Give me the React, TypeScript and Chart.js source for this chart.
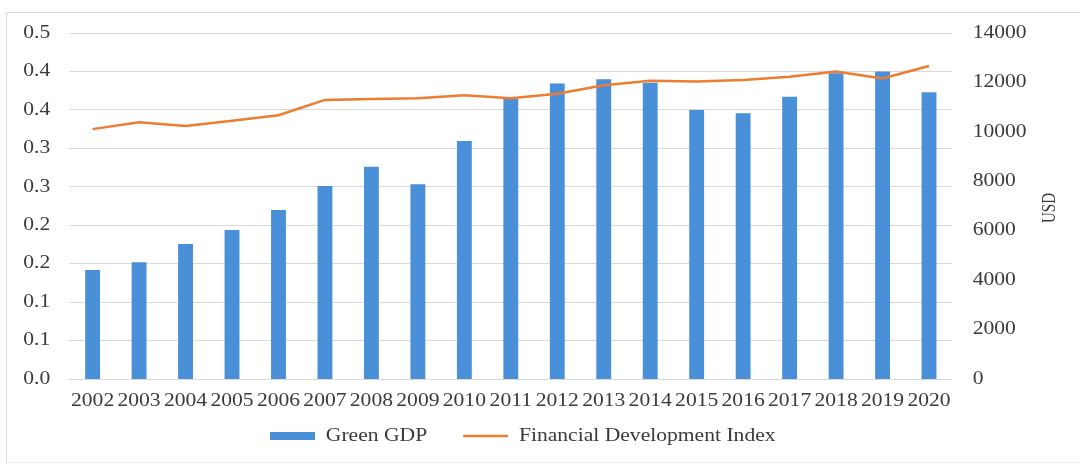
import React, { useEffect, useRef } from "react";
import { Chart, registerables } from "chart.js";

Chart.register(...registerables);

const years = ["2002","2003","2004","2005","2006","2007","2008","2009","2010","2011","2012","2013","2014","2015","2016","2017","2018","2019","2020"];
const greenGDP = [4410, 4720, 5460, 6030, 6840, 7810, 8590, 7880, 9630, 11330, 11960, 12130, 11990, 10880, 10750, 11420, 12370, 12440, 11600];
const fdi = [0.325, 0.334, 0.329, 0.336, 0.343, 0.363, 0.364, 0.365, 0.369, 0.365, 0.371, 0.382, 0.388, 0.387, 0.389, 0.393, 0.400, 0.391, 0.407];
const seriesNames = ["Green GDP", "Financial Development Index"];
const rightAxisTitle = "USD";

const BLUE = "#4a90d9";
const ORANGE = "#ed7d31";
const TEXT = "#3a3a3a";
const GRID = "#d9d9d9";
const FAMILY = "'Liberation Serif', 'Times New Roman', serif";

// logical chart size vs displayed size (reference is horizontally stretched)
const LW = 892;
const DW = 1070;
const H = 440;
const SX = DW / LW;

const stretchPlugin = {
  id: "stretch",
  beforeDraw(chart: any) {
    chart.ctx.setTransform(SX, 0, 0, 1, 0, 0);
  },
};

const usdTitlePlugin = {
  id: "usdTitle",
  afterDraw(chart: any) {
    const ctx = chart.ctx;
    const ca = chart.chartArea;
    ctx.save();
    ctx.translate(869.5, (ca.top + ca.bottom) / 2 + 2);
    ctx.rotate(-Math.PI / 2);
    ctx.font = `15px ${FAMILY}`;
    ctx.fillStyle = TEXT;
    ctx.textAlign = "center";
    ctx.textBaseline = "middle";
    ctx.fillText(rightAxisTitle, 0, 0);
    ctx.restore();
  },
};

export default function App() {
  const ref = useRef<HTMLCanvasElement | null>(null);

  useEffect(() => {
    const canvas = ref.current!;
    canvas.width = LW;
    canvas.height = H;
    const font = { family: FAMILY, size: 18 };
    const chart = new Chart(canvas, {
      type: "bar",
      data: {
        labels: years,
        datasets: [
          {
            type: "bar",
            label: seriesNames[0],
            data: greenGDP,
            yAxisID: "y1",
            backgroundColor: BLUE,
            barPercentage: 0.32,
            categoryPercentage: 1,
            order: 1,
          } as any,
          {
            type: "line",
            label: seriesNames[1],
            data: fdi,
            yAxisID: "y",
            borderColor: ORANGE,
            backgroundColor: ORANGE,
            borderWidth: 2.5,
            pointRadius: 0,
            tension: 0,
            order: 0,
          } as any,
        ],
      },
      options: {
        responsive: false,
        animation: false,
        events: [],
        layout: { padding: { top: 20, right: 32, left: 0, bottom: -2 } },
        scales: {
          x: {
            grid: { display: false, drawTicks: false },
            border: { display: false },
            ticks: { font, color: TEXT, padding: 11, maxRotation: 0, autoSkip: false },
            afterFit: (s: any) => {
              s.height = 18;
              s._computeLabelArea = () => undefined;
            },
          },
          y: {
            position: "left",
            min: 0,
            max: 0.45,
            ticks: {
              stepSize: 0.05,
              padding: 16,
              font,
              color: TEXT,
              callback: (v: any) => (Math.round(Number(v) * 10 + 1e-6) / 10).toFixed(1),
            },
            grid: { color: GRID, drawTicks: false, lineWidth: 1 },
            border: { display: false },
            afterFit: (s: any) => {
              s.width = 52;
              s.paddingTop = 0;
              s.paddingBottom = 0;
            },
          },
          y1: {
            position: "right",
            min: 0,
            max: 14000,
            ticks: {
              stepSize: 2000,
              padding: 17,
              font,
              color: TEXT,
              callback: (v: any) => String(v),
            },
            grid: { display: false, drawTicks: false },
            border: { display: false },
            afterFit: (s: any) => {
              s.width = 72;
              s.paddingTop = 0;
              s.paddingBottom = 0;
            },
          },
        },
        plugins: {
          tooltip: { enabled: false },
          legend: {
            position: "bottom",
            labels: {
              usePointStyle: true,
              pointStyleWidth: 37.5,
              boxHeight: 8,
              padding: 30,
              font,
              color: TEXT,
              generateLabels: (c: any) =>
                c.data.datasets.map((ds: any, i: number) => ({
                  text: ds.label,
                  fillStyle: i === 0 ? BLUE : ORANGE,
                  strokeStyle: i === 0 ? BLUE : ORANGE,
                  lineWidth: i === 0 ? 0 : 2.5,
                  pointStyle: i === 0 ? "rect" : "line",
                  hidden: false,
                  datasetIndex: i,
                  fontColor: TEXT,
                })),
            },
          },
        },
      },
      plugins: [stretchPlugin, usdTitlePlugin],
    } as any);
    canvas.width = DW;
    canvas.height = H;
    chart.draw();
    return () => chart.destroy();
  }, []);

  return (
    <div style={{ position: "absolute", left: 0, top: 0, width: 1080, height: 464, background: "#fff", overflow: "hidden" }}>
      <div
        style={{
          position: "absolute",
          left: 6,
          top: 12,
          width: 1080,
          height: 451,
          borderLeft: "1px solid #d9d9d9",
          borderTop: "1px solid #d9d9d9",
          borderBottom: "1px solid #ececec",
          boxSizing: "border-box",
        }}
      />
      <canvas
        ref={ref}
        width={LW}
        height={H}
        style={{ position: "absolute", left: 7, top: 13, width: DW, height: H }}
      />
    </div>
  );
}
